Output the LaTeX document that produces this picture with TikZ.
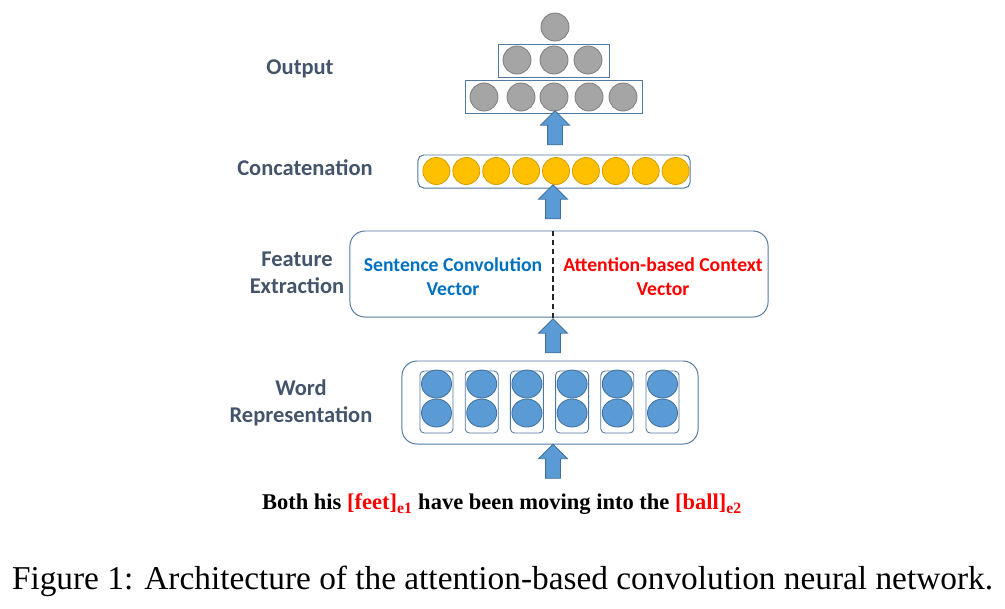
\documentclass[tikz,border=0pt]{standalone}
\usepackage{fontspec}
\setmainfont{Liberation Serif}
\newfontfamily\calibri{Carlito}
\usetikzlibrary{shapes.geometric,shapes.arrows,calc}
\definecolor{labelgray}{RGB}{68,84,106}
\definecolor{boxline}{RGB}{80,120,160}
\definecolor{bluefill}{RGB}{91,155,213}
\definecolor{blueline}{RGB}{65,113,156}
\definecolor{grayfill}{RGB}{165,165,165}
\definecolor{grayline}{RGB}{127,127,127}
\definecolor{goldfill}{RGB}{255,192,0}
\definecolor{goldline}{RGB}{214,160,0}
\definecolor{convblue}{RGB}{0,112,192}
\tikzset{
  layername/.style={font=\calibri\bfseries\fontsize{16}{19.5}\selectfont, text=labelgray, align=center},
  rowbox/.style={draw=boxline, line width=0.7pt, minimum height=0.825cm},
  graynode/.style={circle, draw=grayline, fill=grayfill, line width=0.6pt, minimum size=0.7cm, inner sep=0pt},
  goldnode/.style={circle, draw=goldline, fill=goldfill, line width=0.6pt, minimum size=0.675cm, inner sep=0pt},
  bluenode/.style={ellipse, draw=blueline, fill=bluefill, line width=0.6pt, minimum width=0.75cm, minimum height=0.7cm, inner sep=0pt},
  blockarrow/.style={single arrow, shape border rotate=90, draw=blueline, fill=bluefill, line width=0.6pt,
    minimum height=0.85cm, inner sep=0.175cm, single arrow head extend=0.175cm},
}
\begin{document}
\begin{tikzpicture}[x=0.025cm,y=-0.025cm]
  \useasboundingbox (0,0) rectangle (1005,608);
  % output layers
  \node[graynode] (out) at (555,27) {};
  \node[rowbox, minimum width=2.775cm] (hid2) at (553.5,60.5) {};
  \foreach \x [count=\i] in {517,554,588}
    \node[graynode] (h2\i) at (\x,60) {};
  \node[rowbox, minimum width=4.4cm] (hid1) at (554,96.5) {};
  \foreach \x [count=\i] in {484,521,554,589,623}
    \node[graynode] (h1\i) at (\x,97) {};
  \node[layername] (lout) at (300,69) {Output};
  % concatenation
  \node[rowbox, rounded corners=4pt, minimum width=6.8cm] (concat) at (554,171.5) {};
  \foreach \i in {-4,...,4}
    \node[goldnode] (c\i) at (556+29.9*\i,171) {};
  \node[layername] (lconcat) at (305,168) {Concatenation};
  % feature extraction
  \node[draw=boxline, line width=0.7pt, rounded corners=0.375cm, minimum width=10.45cm, minimum height=2.15cm] (feat) at (559,274) {};
  \node[font=\calibri\bfseries\fontsize{14}{17}\selectfont, text=convblue, align=center] (sconv) at (453,277) {Sentence Convolution\\Vector};
  \node[font=\calibri\bfseries\fontsize{14}{17}\selectfont, text=red, align=center] (actx) at (663,277) {Attention-based Context\\Vector};
  \node[layername] (lfeat) at (297,272.5) {Feature\\Extraction};
  % word representation
  \node[draw=boxline, line width=0.7pt, rounded corners=0.375cm, minimum width=7.4cm, minimum height=2.075cm] (word) at (550,402.5) {};
  \foreach \i in {0,...,5} {
    \node[draw=boxline, line width=0.6pt, rounded corners=3pt, minimum width=0.825cm, minimum height=1.55cm] (w\i) at (436.5+45.2*\i,402) {};
    \node[bluenode] (wa\i) at (436.5+45.2*\i,384) {};
    \node[bluenode] (wb\i) at (436.5+45.2*\i,413) {};
  }
  \node[layername] (lword) at (301,403) {Word\\Representation};
  % arrows
  \node[blockarrow] (a0) at (553,465) {};
  \node[blockarrow] (a1) at (553,339.5) {};
  \node[blockarrow] (a2) at (553,205.5) {};
  \node[blockarrow] (a3) at (555,131.5) {};
  \draw[black!85, line width=1pt, dash pattern=on 4pt off 2.5pt] (a1 |- feat.north) -- (a1 |- feat.south);
  % input sentence and caption
  \node[font=\bfseries\fontsize{16}{19}\selectfont] (sent) at (502,504)
    {Both his \textcolor{red}{[feet]$_{\mathbf{e1}}$} have been moving into the \textcolor{red}{[ball]$_{\mathbf{e2}}$}};
  \node[font=\fontsize{23.7}{28}\selectfont] (cap) at (502.5,581)
    {Figure 1: Architecture of the attention-based convolution neural network.};
\end{tikzpicture}
\end{document}
